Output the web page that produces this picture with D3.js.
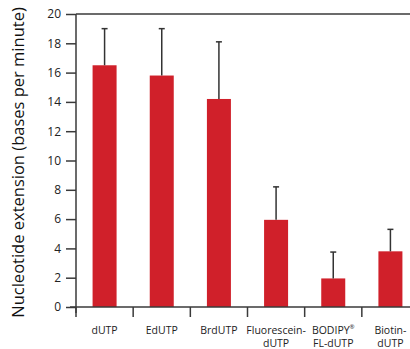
<!DOCTYPE html>
<html>
<head>
<meta charset="utf-8">
<script src="https://cdn.jsdelivr.net/npm/d3@7"></script>
<style>
  body { margin: 0; background: #fff; }
  svg { display: block; font-family: 'Open Sans', sans-serif; }
</style>
</head>
<body>
<svg width="410" height="349"></svg>
<script>
const categories = [['dUTP'], ['EdUTP'], ['BrdUTP'], ['Fluorescein-', 'dUTP'], ['BODIPY', 'FL-dUTP'], ['Biotin-', 'dUTP']]
const rates = [16.5, 15.8, 14.2, 5.95, 1.95, 3.8]
const errorTops = [19.0, 19.0, 18.1, 8.2, 3.75, 5.3]
const yTicks = [0, 2, 4, 6, 8, 10, 12, 14, 16, 18, 20]

const svg = d3.select('svg')
const margin = { top: 14, left: 76, bottom: 307 }

const x = d3.scaleBand()
    .domain(d3.range(categories.length))
    .range([margin.left, 419])
    .paddingInner(0)
const y = d3.scaleLinear()
    .domain([0, 20])
    .range([margin.bottom, margin.top])

const axisColor = '#3a3a3a'

// bars
svg.append('g').selectAll('rect')
    .data(rates)
    .join('rect')
    .attr('x', (d, i) => x(i) + x.bandwidth() / 2 - 12)
    .attr('width', 24)
    .attr('y', d => y(d))
    .attr('height', d => y(0) - y(d))
    .attr('fill', '#d0202a')

// error bars
const err = svg.append('g').attr('stroke', '#333').attr('stroke-width', 1.5)
errorTops.forEach((t, i) => {
    const cx = x(i) + x.bandwidth() / 2
    err.append('line').attr('x1', cx).attr('x2', cx).attr('y1', y(rates[i])).attr('y2', y(t))
    err.append('line').attr('x1', cx - 3).attr('x2', cx + 3).attr('y1', y(t)).attr('y2', y(t))
})

// y axis
const yAxis = svg.append('g')
    .attr('transform', `translate(${margin.left},0)`)
    .call(d3.axisLeft(y).tickValues(yTicks).tickSize(10).tickPadding(5))
yAxis.selectAll('line, path').attr('stroke', axisColor).attr('stroke-width', 1.5)
yAxis.select('.domain').attr('d', `M0,${y(20)}V${y(0) + 6}`)
yAxis.selectAll('text').attr('font-size', 12).attr('fill', '#222').attr('font-family', 'Open Sans, sans-serif')

// top border
svg.append('line')
    .attr('x1', margin.left).attr('x2', 410)
    .attr('y1', y(20)).attr('y2', y(20))
    .attr('stroke', axisColor).attr('stroke-width', 1.5)

// x axis
const xAxis = svg.append('g').attr('transform', `translate(0,${y(0)})`)
xAxis.append('line')
    .attr('x1', margin.left - 6).attr('x2', 410)
    .attr('stroke', axisColor).attr('stroke-width', 1.5)
xAxis.selectAll('.tick')
    .data(d3.range(categories.length))
    .join('line')
    .attr('class', 'tick')
    .attr('x1', i => x(i)).attr('x2', i => x(i))
    .attr('y1', 0).attr('y2', 10)
    .attr('stroke', axisColor).attr('stroke-width', 1.5)

const labels = xAxis.selectAll('text')
    .data(categories)
    .join('text')
    .attr('text-anchor', 'middle')
    .attr('font-size', 10.5)
    .attr('fill', '#222')
labels.each(function (lines, i) {
    const t = d3.select(this)
    lines.forEach((s, k) => {
        t.append('tspan')
            .attr('x', x(i) + x.bandwidth() / 2)
            .attr('y', 27 + k * 13)
            .text(s)
        if (s === 'BODIPY') {
            t.append('tspan').attr('font-size', 6).attr('dy', -5).text('®')
        }
    })
})

// y title
svg.append('text')
    .attr('transform', `translate(24,${(y(0) + y(20)) / 2 + 2}) rotate(-90)`)
    .attr('text-anchor', 'middle')
    .attr('font-size', 16.5)
    .attr('fill', '#111')
    .text('Nucleotide extension (bases per minute)')
</script>
</body>
</html>
